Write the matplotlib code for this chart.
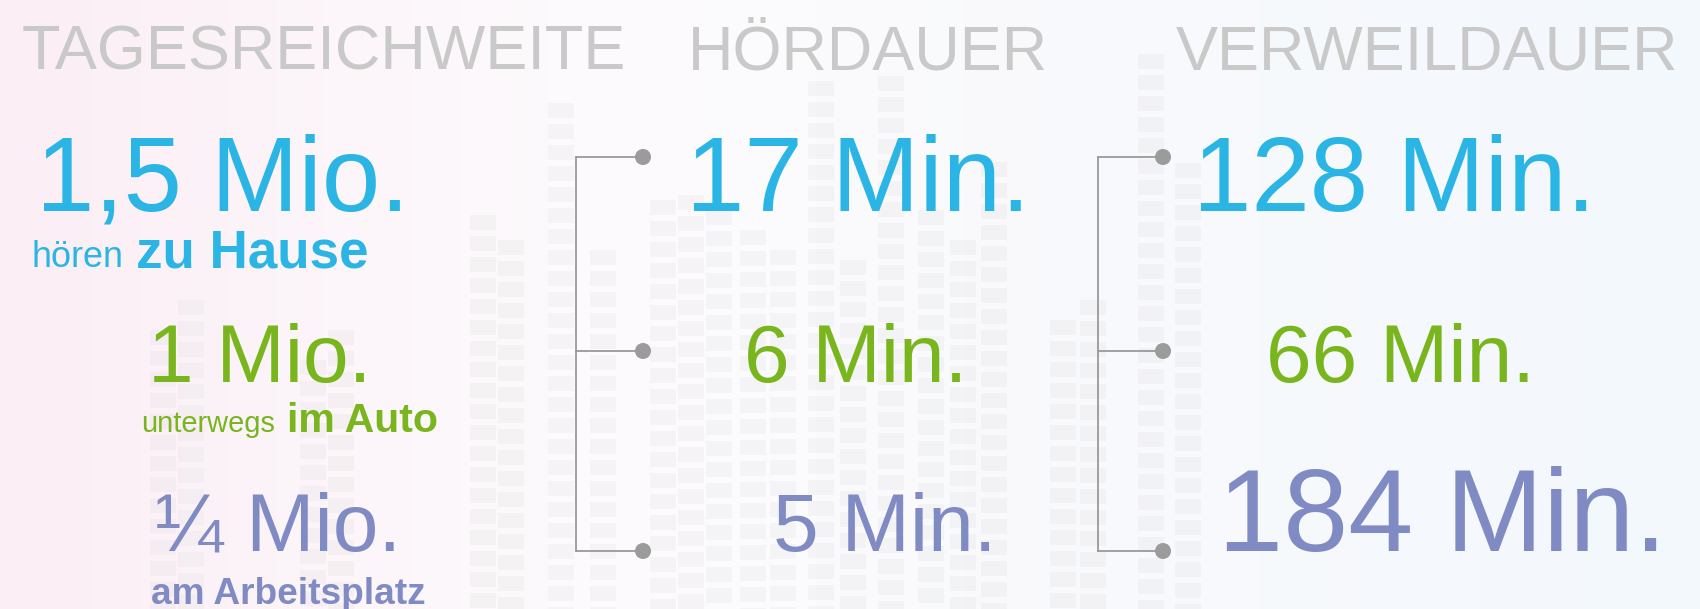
import numpy as np
import matplotlib
matplotlib.use("Agg")
import matplotlib.pyplot as plt
from matplotlib.patches import Rectangle, Circle

# ---- data ----
headers = ["TAGESREICHWEITE", "HÖRDAUER", "VERWEILDAUER"]
reach_values = ["1,5 Mio.", "1 Mio.", "¼ Mio."]
reach_prefix = ["hören", "unterwegs", ""]
reach_place = ["zu Hause", "im Auto", "am Arbeitsplatz"]
listen_minutes = [17, 6, 5]
stay_minutes = [128, 66, 184]
unit = "Min."

colors = ["#2bb5e4", "#79b51c", "#7f8bc2"]
header_color = "#c9c9c9"
line_color = "#999999"

# background equalizer decoration (column x, top y in px)
eq_x = [150, 178, 300, 328, 470, 498, 548, 590, 650, 678, 706, 740, 770, 808,
        840, 878, 918, 950, 981, 1050, 1080, 1138, 1175]
eq_top = [330, 300, 360, 330, 215, 240, 103, 250, 200, 195, 210, 230, 250, 81,
          260, 76, 210, 240, 162, 320, 300, 54, 163]

W, H = 1700, 609
fig = plt.figure(figsize=(17, 6.09), dpi=100)
ax = fig.add_axes([0, 0, 1, 1])
ax.set_xlim(0, W)
ax.set_ylim(H, 0)
ax.axis("off")

# gradient background
xs = np.linspace(0, 1, 400)
left = np.array([251, 238, 245]) / 255
mid = np.array([253, 251, 253]) / 255
right = np.array([243, 248, 252]) / 255
grad = np.zeros((1, len(xs), 3))
for i, t in enumerate(xs):
    if t < 0.35:
        u = t / 0.35
        grad[0, i] = left * (1 - u) + mid * u
    else:
        u = (t - 0.35) / 0.65
        grad[0, i] = mid * (1 - u) + right * u
ax.imshow(grad, extent=[0, W, H, 0], aspect="auto", zorder=0)

# faint equalizer blocks
for cx, top in zip(eq_x, eq_top):
    y = top
    while y < H:
        ax.add_patch(Rectangle((cx, y), 26, 15, facecolor="#d5d5d5",
                               edgecolor="none", alpha=0.17, zorder=1))
        y += 21

FONT = "Liberation Sans"

def em(px):
    return px * 0.72

# headers
header_x = [22, 688, 1176]
for hx, txt in zip(header_x, headers):
    ax.text(hx, 70, txt, color=header_color, fontsize=em(63), family=FONT,
            ha="left", va="baseline", zorder=3)

row_base = [211, 382, 551]
big_em = [105, 82, 82]

# left column: reach
reach_x = [36, 148, 155]
for i in range(3):
    ax.text(reach_x[i], row_base[i], reach_values[i], color=colors[i],
            fontsize=em(big_em[i]), family=FONT, ha="left", va="baseline", zorder=3)

ax.text(32, 267, reach_prefix[0], color=colors[0], fontsize=em(36), family=FONT,
        ha="left", va="baseline", zorder=3)
ax.text(136, 267, reach_place[0], color=colors[0], fontsize=em(53), family=FONT,
        weight="bold", ha="left", va="baseline", zorder=3)
ax.text(141, 432, reach_prefix[1], color=colors[1], fontsize=em(29), family=FONT,
        ha="left", va="baseline", zorder=3)
ax.text(287, 432, reach_place[1], color=colors[1], fontsize=em(41), family=FONT,
        weight="bold", ha="left", va="baseline", zorder=3)
ax.text(151, 604, reach_place[2], color=colors[2], fontsize=em(37), family=FONT,
        weight="bold", ha="left", va="baseline", zorder=3)

# brackets
dot_y = [157, 351, 551]
def bracket(xv, xend):
    ax.plot([xv, xv], [dot_y[0], dot_y[-1]], color=line_color, lw=1.3, zorder=2)
    for y in dot_y:
        ax.plot([xv, xend], [y, y], color=line_color, lw=1.3, zorder=2)
        ax.add_patch(Circle((xend, y), 8, facecolor="#9b9b9b", edgecolor="none", zorder=3))

bracket(576, 643)
bracket(1098, 1163)

# middle column: listening duration
mid_x = [686, 744, 773]
for i in range(3):
    ax.text(mid_x[i], row_base[i], f"{listen_minutes[i]} {unit}", color=colors[i],
            fontsize=em(big_em[i]), family=FONT, ha="left", va="baseline", zorder=3)

# right column: stay duration
right_x = [1193, 1266, 1218]
right_em = [105, 82, 117]
for i in range(3):
    ax.text(right_x[i], row_base[i], f"{stay_minutes[i]} {unit}", color=colors[i],
            fontsize=em(right_em[i]), family=FONT, ha="left", va="baseline", zorder=3)

fig.savefig("out.png", dpi=100)
